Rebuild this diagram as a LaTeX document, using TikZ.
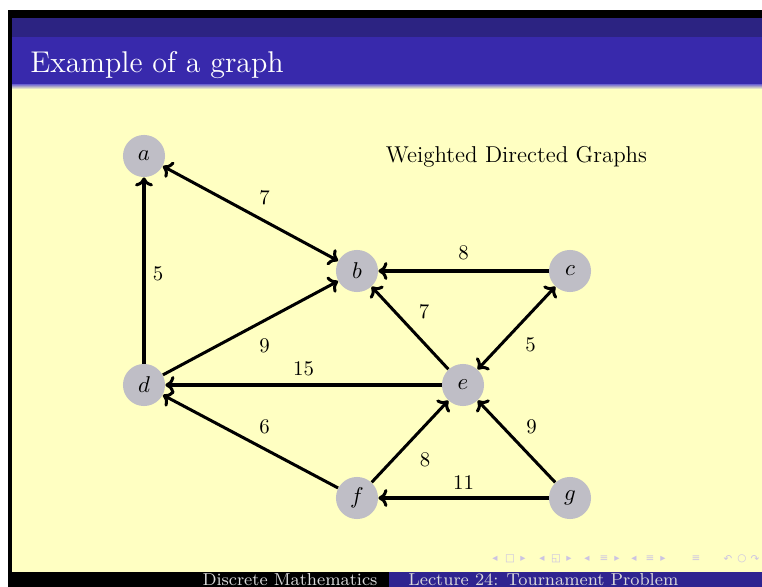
\documentclass[tikz,border=0pt]{standalone}
\usepackage{fontspec}
\newfontfamily\navfont{DejaVu Sans}
\usetikzlibrary{arrows.meta}
\definecolor{bgyellow}{HTML}{FFFFC2}
\definecolor{titleblue}{HTML}{3829AC}
\definecolor{darkband}{HTML}{2C2382}
\definecolor{footblue}{HTML}{2F2490}
\definecolor{nodegray}{HTML}{BFBEC6}
\definecolor{navcol}{HTML}{CBC3E3}
\tikzset{
  vtx/.style={circle, fill=nodegray, minimum size=20.2pt, inner sep=0pt, font=\fontsize{11}{13}\selectfont},
  wedge/.style={line width=1.45pt, -{To[length=4.3pt,width=8.6pt]}},
  bedge/.style={line width=1.45pt, {To[length=4.3pt,width=8.6pt]}-{To[length=4.3pt,width=8.6pt]}},
  wlabel/.style={font=\fontsize{10}{12}\selectfont, inner sep=0pt},
  navsym/.style={font=\navfont\fontsize{5}{6}\selectfont, text=navcol, inner sep=0pt}
}
\begin{document}
\begin{tikzpicture}[x=0.48pt,y=-0.48pt]
\useasboundingbox (0,0) rectangle (762,587);
% slide frame
\fill[white] (0,0) rectangle (762,587);
\fill[bgyellow] (12,88) rectangle (762,572);
\fill[black] (8,10) rectangle (12,587);
\fill[black] (8,10) rectangle (762,18);
\fill[darkband] (12,18) rectangle (762,37);
\fill[titleblue] (12,37) rectangle (762,85);
\shade[top color=titleblue!60!white, bottom color=bgyellow] (12,85) rectangle (762,89);
\fill[black] (8,572) rectangle (389,587);
\fill[footblue] (389,572) rectangle (762,587);
% title and footer texts
\node[anchor=base west, text=white, inner sep=0pt, font=\fontsize{14.4}{17}\selectfont] (title) at (30,73) {Example of a graph};
\node[anchor=base, text=white!85!black, inner sep=0pt, font=\fontsize{8.3}{10}\selectfont] (foot1) at (290,586) {Discrete Mathematics};
\node[anchor=base west, text=white!85!black, inner sep=0pt, font=\fontsize{8.3}{10}\selectfont] (foot2) at (408,586) {Lecture 24: Tournament Problem};
\node[anchor=base, inner sep=0pt, font=\fontsize{11}{13}\selectfont] (heading) at (516.5,163) {Weighted Directed Graphs};
% navigation symbols
\node[navsym] (n1) at (495,559) {◂};
\node[navsym] (n2) at (510,559) {□};
\node[navsym] (n3) at (523,559) {▸};
\node[navsym] (n4) at (542,559) {◂};
\node[navsym] (n5) at (556,559) {◱};
\node[navsym] (n6) at (569,559) {▸};
\node[navsym] (n7) at (587,559) {◂};
\node[navsym] (n8) at (604,559) {≡};
\node[navsym] (n9) at (617,559) {▸};
\node[navsym] (n10) at (634,559) {◂};
\node[navsym] (n11) at (650,559) {≡};
\node[navsym] (n12) at (663,559) {▸};
\node[navsym] (n13) at (696,559) {≡};
\node[navsym] (n14) at (728,559) {↶};
\node[navsym] (n15) at (742,559) {○};
\node[navsym] (n16) at (755,559) {↷};
% vertices
\node[vtx] (a) at (144,156) {$a$};
\node[vtx] (b) at (357,271) {$b$};
\node[vtx] (c) at (570,271) {$c$};
\node[vtx] (d) at (144,385) {$d$};
\node[vtx] (e) at (463,385) {$e$};
\node[vtx] (f) at (357,498) {$f$};
\node[vtx] (g) at (570,498) {$g$};
% edges
\draw[wedge] (d) -- node[wlabel, shift={(14,3)}] {5} (a);
\draw[bedge] (a) -- node[wlabel, shift={(14,-16)}] {7} (b);
\draw[wedge] (d) -- node[wlabel, shift={(14,18)}] {9} (b);
\draw[wedge] (c) -- node[wlabel, shift={(0,-18)}] {8} (b);
\draw[wedge] (e) -- node[wlabel, shift={(14,-16)}] {7} (b);
\draw[bedge] (c) -- node[wlabel, shift={(14,17)}] {5} (e);
\draw[wedge] (e) -- node[wlabel, shift={(0,-16)}] {15} (d);
\draw[wedge] (f) -- node[wlabel, shift={(14,-15)}] {6} (d);
\draw[wedge] (f) -- node[wlabel, shift={(15,18)}] {8} (e);
\draw[wedge] (g) -- node[wlabel, shift={(15,-15)}] {9} (e);
\draw[wedge] (g) -- node[wlabel, shift={(0,-15)}] {11} (f);
\end{tikzpicture}
\end{document}
